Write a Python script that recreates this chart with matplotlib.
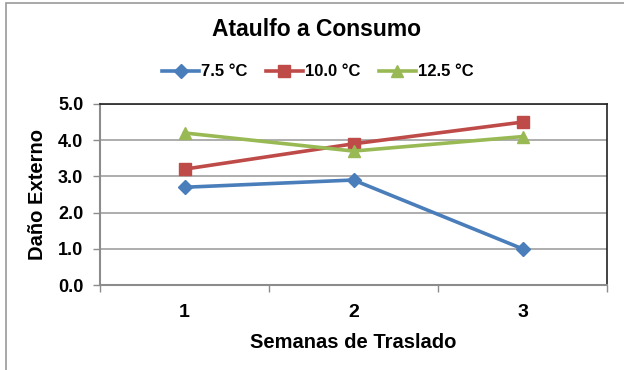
import matplotlib.pyplot as plt
from matplotlib.patches import Rectangle

plt.rcParams['font.family'] = ['Liberation Sans', 'DejaVu Sans']
plt.rcParams['font.weight'] = 'bold'

WEEKS = ["1", "2", "3"]
SERIES = ["7.5 °C", "10.0 °C", "12.5 °C"]
DAMAGE_75 = [2.7, 2.9, 1.0]
DAMAGE_100 = [3.2, 3.9, 4.5]
DAMAGE_125 = [4.2, 3.7, 4.1]
Y_TICKS = [0.0, 1.0, 2.0, 3.0, 4.0, 5.0]

COLORS = ["#4A7EBB", "#BE4B48", "#98B954"]
MARKERS = ["D", "s", "^"]
MSIZES = [7, 9, 9]

W, H = 624, 370
fig = plt.figure(figsize=(W / 100, H / 100), dpi=100)

# outer chart frame (only top/left edges fall inside the canvas)
fig.patches.append(Rectangle((6 / W, -0.05), 1.1, (H - 3) / H + 0.05,
                             transform=fig.transFigure, fill=False,
                             edgecolor="#9a9a9a", linewidth=1.2))

ax = fig.add_axes([100 / W, (H - 285) / H, 507 / W, 181 / H])

x = range(1, len(WEEKS) + 1)
for vals, label, c, m, ms in zip([DAMAGE_75, DAMAGE_100, DAMAGE_125],
                                 SERIES, COLORS, MARKERS, MSIZES):
    ax.plot(x, vals, color=c, linewidth=2.6, marker=m, markersize=ms,
            label=label, clip_on=False, zorder=3)

ax.set_xlim(0.5, 3.5)
ax.set_ylim(0, 5)
ax.set_yticks(Y_TICKS)
ax.set_yticklabels([f"{v:.1f}" for v in Y_TICKS], fontsize=13, fontweight="bold")
ax.set_xticks(list(x))
ax.set_xticklabels(WEEKS, fontsize=14, fontweight="bold")
ax.tick_params(axis="x", length=0, pad=14)
ax.set_xticks([0.5, 1.5, 2.5, 3.5], minor=True)
ax.tick_params(axis="x", which="minor", length=5, color="#8c8c8c", width=1)
ax.tick_params(axis="y", length=5, color="#8c8c8c", width=1, pad=7)

ax.grid(axis="y", color="#a0a0a0", linewidth=1.2)
ax.set_axisbelow(True)
for side in ["top", "right"]:
    ax.spines[side].set_color("#222222")
    ax.spines[side].set_linewidth(1.2)
for side in ["left", "bottom"]:
    ax.spines[side].set_color("#8c8c8c")
    ax.spines[side].set_linewidth(1.5)

ax.set_xlabel("Semanas de Traslado", fontsize=14.5, fontweight="bold", labelpad=8)
ax.set_ylabel("Daño Externo", fontsize=14.5, fontweight="bold", labelpad=8)

fig.text(316 / W, 1 - 30 / H, "Ataulfo a Consumo", ha="center", va="center",
         fontsize=16.5, fontweight="bold")

fig.legend(loc="center", bbox_to_anchor=(318 / W, 1 - 72 / H), ncol=3,
           frameon=False, handlelength=2.2, handletextpad=0.15,
           columnspacing=1.1, prop={"weight": "bold", "size": 12})

fig.savefig("out.png", dpi=100)
